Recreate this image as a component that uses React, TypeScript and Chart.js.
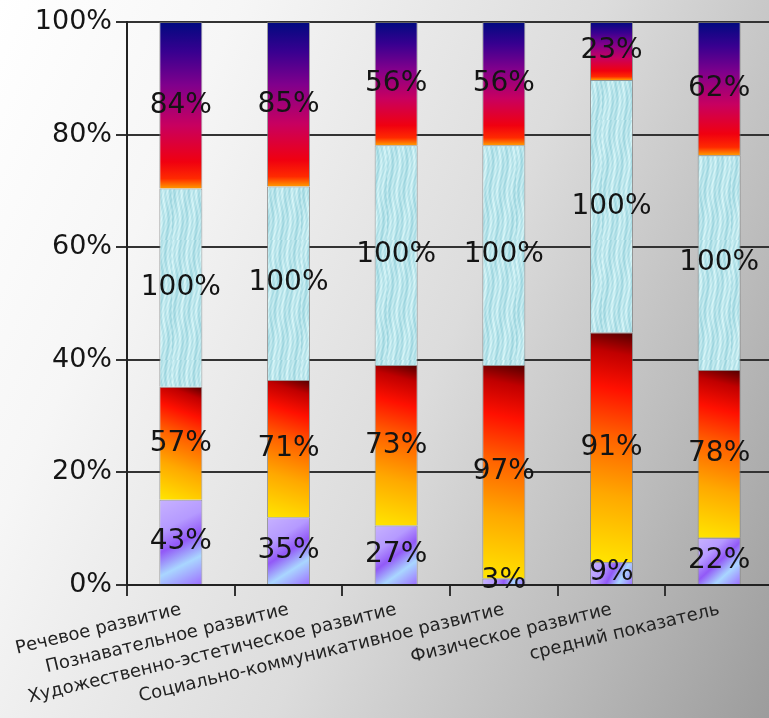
import React, { useEffect, useRef } from "react";
import { Chart, registerables } from "chart.js";

Chart.register(...registerables);

const categories = [
  "Речевое развитие",
  "Познавательное развитие",
  "Художественно-эстетическое развитие",
  "Социально-коммуникативное развитие",
  "Физическое развитие",
  "средний показатель",
];
const seriesLow = [43, 35, 27, 3, 9, 22];
const seriesMid = [57, 71, 73, 97, 91, 78];
const seriesHigh = [100, 100, 100, 100, 100, 100];
const seriesTop = [84, 85, 56, 56, 23, 62];
const yTickValues = [0, 20, 40, 60, 80, 100];

const rawSeries = [seriesLow, seriesMid, seriesHigh, seriesTop];
const totals = categories.map((_, i) => rawSeries.reduce((s, arr) => s + arr[i], 0));
const normSeries = rawSeries.map((arr) => arr.map((v, i) => (v / totals[i]) * 100));

const FONT = "'DejaVu Sans', Verdana, sans-serif";
const BAR_PCT = 0.4;

let cyanPattern: CanvasPattern | null = null;
function getCyanPattern(ctx: CanvasRenderingContext2D) {
  if (cyanPattern) return cyanPattern;
  const W = 43;
  const H = 120;
  const c = document.createElement("canvas");
  c.width = W;
  c.height = H;
  const g = c.getContext("2d")!;
  const img = g.createImageData(W, H);
  for (let y = 0; y < H; y++) {
    for (let x = 0; x < W; x++) {
      const t =
        0.5 +
        0.24 * Math.sin(x * 1.3 + 2.2 * Math.sin(y * 0.11)) +
        0.14 * Math.sin(x * 0.47 + y * 0.052) +
        0.12 * Math.sin(y * 0.93 + x * 2.1);
      const k = Math.max(0, Math.min(1, t));
      const idx = (y * W + x) * 4;
      img.data[idx] = 152 + 68 * k;
      img.data[idx + 1] = 210 + 38 * k;
      img.data[idx + 2] = 220 + 30 * k;
      img.data[idx + 3] = 255;
    }
  }
  g.putImageData(img, 0, 0);
  cyanPattern = ctx.createPattern(c, "repeat");
  return cyanPattern;
}

function segmentFill(context: any, dsIndex: number) {
  const chart = context.chart;
  const { ctx, chartArea, scales } = chart;
  const fallback = ["#b090ff", "#ff8000", "#bde8ef", "#a00060"][dsIndex];
  if (!chartArea || context.dataIndex === undefined) return fallback;
  const i = context.dataIndex;
  const xs = scales.x;
  const ys = scales.y;
  let start = 0;
  for (let d = 0; d < dsIndex; d++) start += normSeries[d][i];
  const end = start + normSeries[dsIndex][i];
  const yb = ys.getPixelForValue(start);
  const yt = ys.getPixelForValue(end);
  const xc = xs.getPixelForValue(i);
  const half = ((xs.width / categories.length) * BAR_PCT) / 2;
  const xl = xc - half;
  const xr = xc + half;
  if (dsIndex === 0) {
    const g = ctx.createLinearGradient(xl, yt, xr, yb);
    g.addColorStop(0, "#c7b2ff");
    g.addColorStop(0.3, "#b59aff");
    g.addColorStop(0.5, "#9259f7");
    g.addColorStop(0.72, "#a9d6ff");
    g.addColorStop(1, "#9d6cff");
    return g;
  }
  if (dsIndex === 1) {
    const g = ctx.createLinearGradient(xl, yb, xr, yt);
    g.addColorStop(0, "#ffe600");
    g.addColorStop(0.3, "#ffa800");
    g.addColorStop(0.55, "#ff6000");
    g.addColorStop(0.75, "#ff1000");
    g.addColorStop(0.9, "#c00000");
    g.addColorStop(1, "#500000");
    return g;
  }
  if (dsIndex === 2) {
    return getCyanPattern(ctx) || fallback;
  }
  const g = ctx.createLinearGradient(xc, yb, xc, yt);
  g.addColorStop(0, "#ff9a00");
  g.addColorStop(0.06, "#ff2a00");
  g.addColorStop(0.16, "#f00010");
  g.addColorStop(0.38, "#c80060");
  g.addColorStop(0.62, "#80008c");
  g.addColorStop(0.82, "#380090");
  g.addColorStop(1, "#000a80");
  return g;
}

const dataLabelPlugin = {
  id: "segLabels",
  afterDatasetsDraw(chart: any) {
    const { ctx } = chart;
    ctx.save();
    ctx.font = `28px ${FONT}`;
    ctx.fillStyle = "#141414";
    ctx.textAlign = "center";
    ctx.textBaseline = "middle";
    chart.data.datasets.forEach((ds: any, d: number) => {
      const meta = chart.getDatasetMeta(d);
      meta.data.forEach((el: any, i: number) => {
        const y = (el.y + el.base) / 2;
        ctx.fillText(`${rawSeries[d][i]}%`, el.x, y);
      });
    });
    ctx.restore();
  },
};

export default function App() {
  const ref = useRef<HTMLCanvasElement | null>(null);
  useEffect(() => {
    if (!ref.current) return;
    const chart = new Chart(ref.current, {
      type: "bar",
      data: {
        labels: categories,
        datasets: normSeries.map((arr, d) => ({
          label: `s${d}`,
          data: arr,
          backgroundColor: (c: any) => segmentFill(c, d),
          borderColor: "rgba(120,120,120,0.7)",
          borderWidth: 1,
          barPercentage: BAR_PCT,
          categoryPercentage: 1,
        })),
      },
      options: {
        animation: false,
        responsive: false,
        maintainAspectRatio: false,
        devicePixelRatio: 1,
        layout: { padding: { top: 22, right: 17, left: 0, bottom: 0 } },
        plugins: {
          legend: { display: false },
          tooltip: { enabled: false },
        },
        scales: {
          x: {
            stacked: true,
            grid: {
              drawOnChartArea: false,
              drawTicks: true,
              tickLength: 11,
              color: "#333",
              lineWidth: 2,
            },
            border: { display: true, color: "#222", width: 2 },
            ticks: {
              autoSkip: false,
              maxRotation: 13.5,
              minRotation: 13.5,
              padding: 3,
              color: "#222",
              font: { family: FONT, size: 18 },
            },
            afterFit: (s: any) => {
              s.height = 718 - 585;
            },
          },
          y: {
            stacked: true,
            min: 0,
            max: 100,
            afterBuildTicks: (s: any) => {
              s.ticks = yTickValues.map((v) => ({ value: v }));
            },
            grid: {
              color: "#333",
              lineWidth: 2,
              tickLength: 11,
            },
            border: { display: true, color: "#222", width: 2 },
            ticks: {
              padding: 4,
              color: "#151515",
              font: { family: FONT, size: 27 },
              callback: (v: any) => `${v}%`,
            },
            afterFit: (s: any) => {
              s.width = 127;
            },
          },
        },
      },
      plugins: [dataLabelPlugin],
    });
    return () => chart.destroy();
  }, []);
  return (
    <div
      style={{
        position: "fixed",
        left: 0,
        top: 0,
        width: 769,
        height: 718,
        overflow: "hidden",
        background:
          "linear-gradient(115deg, #ffffff 0%, #f6f6f6 22%, #dcdcdc 55%, #bdbdbd 78%, #9c9c9c 100%)",
      }}
    >
      <canvas ref={ref} width={790} height={718} style={{ display: "block" }} />
    </div>
  );
}
